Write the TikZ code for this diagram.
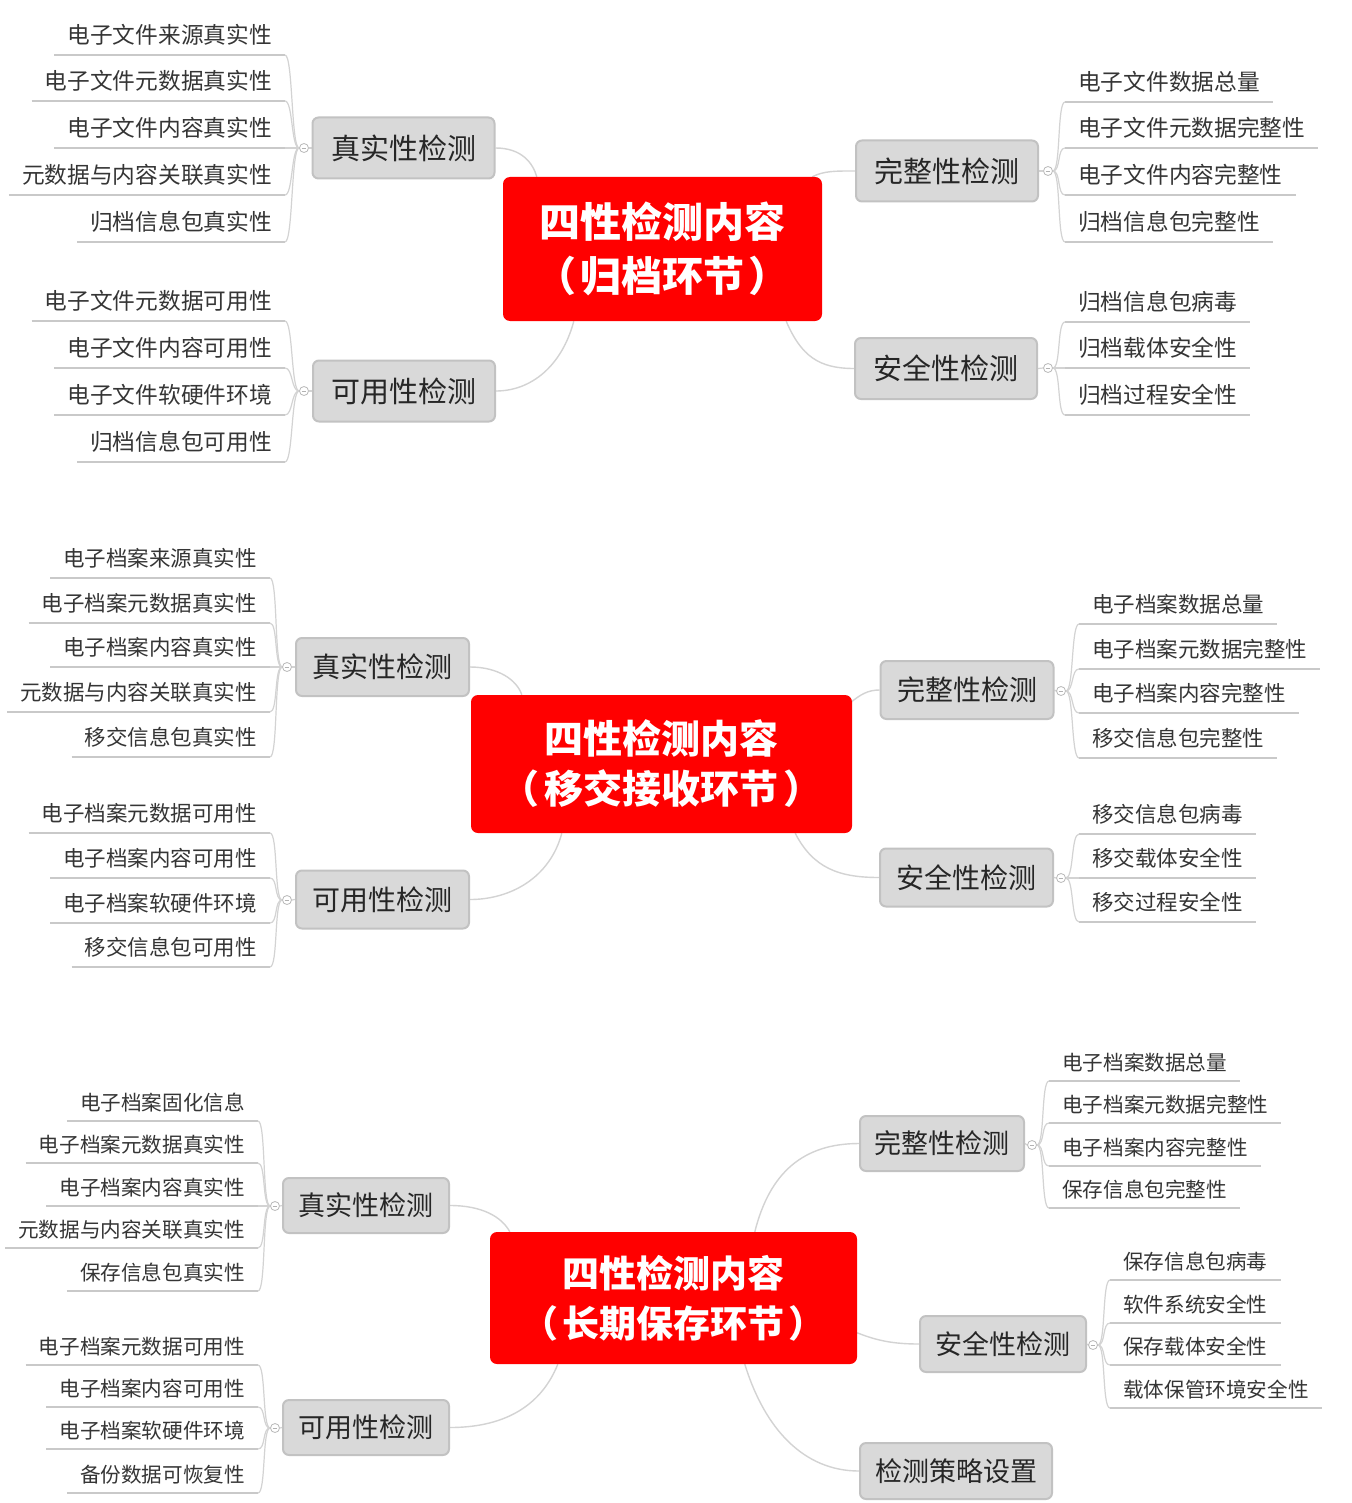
\documentclass[tikz,border=0pt]{standalone}
\usepackage{fontspec}
\setmainfont{Noto Sans CJK SC}
\usetikzlibrary{calc}
\pgfdeclarelayer{bg}
\pgfsetlayers{bg,main}
\definecolor{boxfill}{HTML}{D9D9D9}
\definecolor{boxline}{HTML}{C2C2C2}
\definecolor{cred}{HTML}{FF0000}
\definecolor{ulcol}{HTML}{C9C9C9}
\definecolor{brcol}{HTML}{D3D3D3}
\definecolor{leaftxt}{HTML}{353535}
\definecolor{branchtxt}{HTML}{262626}
\tikzset{
  centerbox/.style={fill=cred, rounded corners=7pt, text=white, align=center, inner sep=0pt},
  branchbox/.style={fill=boxfill, draw=boxline, line width=2pt, rounded corners=6pt, inner sep=0pt, text=branchtxt},
  leafL/.style={anchor=south east, inner xsep=13pt, inner ysep=0pt, text=leaftxt, text height=20pt},
  leafR/.style={anchor=south west, inner xsep=13pt, inner ysep=0pt, text=leaftxt, text height=20pt},
  lf1/.style={font=\fontsize{22.7}{27}\selectfont, text depth=11pt},
  lf2/.style={font=\fontsize{21.5}{26}\selectfont, text depth=11pt},
  lf3/.style={font=\fontsize{20.6}{25}\selectfont, text depth=10.5pt},
  bf1/.style={branchbox, font=\fontsize{29}{34}\selectfont, minimum width=182pt, minimum height=61pt},
  bf2/.style={branchbox, font=\fontsize{28}{33}\selectfont, minimum width=173pt, minimum height=58pt},
  bf3/.style={branchbox, font=\fontsize{27}{32}\selectfont, minimum width=166pt, minimum height=55pt},
  uline/.style={draw=ulcol, line width=2.2pt},
  bline/.style={draw=brcol, line width=1.2pt},
  cline/.style={draw=brcol, line width=1.4pt},
  knob/.style={circle, draw=gray!55, fill=white, line width=0.8pt, minimum size=9pt, inner sep=0pt,
    path picture={\draw[gray!60, line width=0.7pt] ([xshift=-2.3pt]path picture bounding box.center) -- ([xshift=2.3pt]path picture bounding box.center);}},
}
\begin{document}
\begin{tikzpicture}[x=1pt,y=-1pt]
\useasboundingbox (0,0) rectangle (1351,1503);

% ================= Section 1 =================
\node[centerbox, minimum width=319pt, minimum height=144pt, font=\fontsize{41}{54}\selectfont\bfseries] (c1) at (662.5,249) {四性检测内容\\（\hspace{4pt}归档环节\hspace{4pt}）};
\node[bf1] (t1) at (403.5,148) {真实性检测};
\node[bf1] (u1) at (404,391) {可用性检测};
\node[bf1] (w1) at (947,171) {完整性检测};
\node[bf1] (s1) at (946,368.5) {安全性检测};
\node[knob] (t1k) at (304,148) {};
\node[knob] (u1k) at (304,391) {};
\node[knob] (w1k) at (1048,171) {};
\node[knob] (s1k) at (1048,368) {};
\foreach \t/\y [count=\i] in {电子文件来源真实性/55,电子文件元数据真实性/101,电子文件内容真实性/148,元数据与内容关联真实性/195,归档信息包真实性/242}
  \node[leafL, lf1] (t1-\i) at (285,\y) {\t};
\foreach \t/\y [count=\i] in {电子文件元数据可用性/321,电子文件内容可用性/368,电子文件软硬件环境/415,归档信息包可用性/462}
  \node[leafL, lf1] (u1-\i) at (285,\y) {\t};
\foreach \t/\y [count=\i] in {电子文件数据总量/102,电子文件元数据完整性/148,电子文件内容完整性/195,归档信息包完整性/242}
  \node[leafR, lf1] (w1-\i) at (1065,\y) {\t};
\foreach \t/\y [count=\i] in {归档信息包病毒/322,归档载体安全性/368,归档过程安全性/415}
  \node[leafR, lf1] (s1-\i) at (1065,\y) {\t};

% ================= Section 2 =================
\node[centerbox, minimum width=381pt, minimum height=138pt, font=\fontsize{39}{50}\selectfont\bfseries] (c2) at (661.5,764) {四性检测内容\\（\hspace{5pt}移交接收环节\hspace{5pt}）};
\node[bf2] (t2) at (382.5,667) {真实性检测};
\node[bf2] (u2) at (382.5,899.5) {可用性检测};
\node[bf2] (w2) at (967,690) {完整性检测};
\node[bf2] (s2) at (966.5,877.5) {安全性检测};
\node[knob] (t2k) at (287,667) {};
\node[knob] (u2k) at (287,900) {};
\node[knob] (w2k) at (1061,691) {};
\node[knob] (s2k) at (1061,878) {};
\foreach \t/\y [count=\i] in {电子档案来源真实性/578,电子档案元数据真实性/623,电子档案内容真实性/667,元数据与内容关联真实性/712,移交信息包真实性/757}
  \node[leafL, lf2] (t2-\i) at (270,\y) {\t};
\foreach \t/\y [count=\i] in {电子档案元数据可用性/833,电子档案内容可用性/878,电子档案软硬件环境/923,移交信息包可用性/967}
  \node[leafL, lf2] (u2-\i) at (270,\y) {\t};
\foreach \t/\y [count=\i] in {电子档案数据总量/624,电子档案元数据完整性/669,电子档案内容完整性/713,移交信息包完整性/758}
  \node[leafR, lf2] (w2-\i) at (1079,\y) {\t};
\foreach \t/\y [count=\i] in {移交信息包病毒/834,移交载体安全性/878,移交过程安全性/922}
  \node[leafR, lf2] (s2-\i) at (1079,\y) {\t};

% ================= Section 3 =================
\node[centerbox, minimum width=367pt, minimum height=132pt, font=\fontsize{37}{50}\selectfont\bfseries] (c3) at (673.5,1298) {四性检测内容\\（\hspace{4pt}长期保存环节\hspace{4pt}）};
\node[bf3] (t3) at (366,1205.5) {真实性检测};
\node[bf3] (u3) at (366,1427.5) {可用性检测};
\node[bf3, minimum width=164pt] (w3) at (942,1143.5) {完整性检测};
\node[bf3, minimum height=56pt] (s3) at (1003,1344) {安全性检测};
\node[bf3, minimum width=192pt, minimum height=56pt] (p3) at (956,1471) {检测策略设置};
\node[knob] (t3k) at (275,1206) {};
\node[knob] (u3k) at (275,1428) {};
\node[knob] (w3k) at (1032,1145) {};
\node[knob] (s3k) at (1093,1345) {};
\foreach \t/\y [count=\i] in {电子档案固化信息/1121,电子档案元数据真实性/1163,电子档案内容真实性/1206,元数据与内容关联真实性/1248,保存信息包真实性/1291}
  \node[leafL, lf3] (t3-\i) at (258,\y) {\t};
\foreach \t/\y [count=\i] in {电子档案元数据可用性/1365,电子档案内容可用性/1407,电子档案软硬件环境/1449,备份数据可恢复性/1493}
  \node[leafL, lf3] (u3-\i) at (258,\y) {\t};
\foreach \t/\y [count=\i] in {电子档案数据总量/1081,电子档案元数据完整性/1123,电子档案内容完整性/1166,保存信息包完整性/1208}
  \node[leafR, lf3] (w3-\i) at (1049,\y) {\t};
\foreach \t/\y [count=\i] in {保存信息包病毒/1280,软件系统安全性/1323,保存载体安全性/1365,载体保管环境安全性/1408}
  \node[leafR, lf3] (s3-\i) at (1110,\y) {\t};

% ================= Connectors =================
\begin{pgfonlayer}{bg}
  \fill[white] (0,0) rectangle (1351,1503);
  % leaf underlines and brackets, left side
  \foreach \b/\n in {t1/5,u1/4,t2/5,u2/4,t3/5,u3/4} {
    \draw[bline] (\b.west) -- (\b k.east);
    \foreach \i in {1,...,\n} {
      \draw[uline] (\b-\i.south west) -- (\b-\i.south east);
      \draw[bline] (\b k.west) .. controls +(-8,0) and +(8,0) .. (\b-\i.south east);
    }
  }
  % right side
  \foreach \b/\n in {w1/4,s1/3,w2/4,s2/3,w3/4,s3/4} {
    \draw[bline] (\b.east) -- (\b k.west);
    \foreach \i in {1,...,\n} {
      \draw[uline] (\b-\i.south west) -- (\b-\i.south east);
      \draw[bline] (\b k.east) .. controls +(8,0) and +(-8,0) .. (\b-\i.south west);
    }
  }
  % center to branch, section 1
  \draw[cline] (t1.east) .. controls +(26,0) and +(-4,-14) .. ($(c1.north west)+(34,0)$);
  \draw[cline] ($(c1.south west)+(71,0)$) .. controls +(-12,45) and +(35,0) .. (u1.east);
  \draw[cline] ($(c1.north east)+(-10,0)$) .. controls +(12,-6) and +(-20,0) .. (w1.west);
  \draw[cline] ($(c1.south east)+(-36,0)$) .. controls +(15,35) and +(-35,0) .. (s1.west);
  % section 2
  \draw[cline] (t2.east) .. controls +(28,0) and +(-5,-15) .. ($(c2.north west)+(51,0)$);
  \draw[cline] ($(c2.south west)+(91,0)$) .. controls +(-12,45) and +(40,0) .. (u2.east);
  \draw[cline] ($(c2.north east)+(-2,8)$) .. controls +(10,-8) and +(-12,0) .. (w2.west);
  \draw[cline] ($(c2.south east)+(-57,0)$) .. controls +(18,35) and +(-40,0) .. (s2.west);
  % section 3
  \draw[cline] (t3.east) .. controls +(32,0) and +(-8,-15) .. ($(c3.north west)+(20,0)$);
  \draw[cline] ($(c3.south west)+(68,0)$) .. controls +(-18,45) and +(50,0) .. (u3.east);
  \draw[cline] ($(c3.north west)+(265,0)$) .. controls +(15,-60) and +(-55,0) .. (w3.west);
  \draw[cline] ($(c3.north east)+(0,101)$) .. controls +(20,8) and +(-25,0) .. (s3.west);
  \draw[cline] ($(c3.south west)+(255,0)$) .. controls +(20,65) and +(-55,0) .. (p3.west);
\end{pgfonlayer}
\end{tikzpicture}
\end{document}
